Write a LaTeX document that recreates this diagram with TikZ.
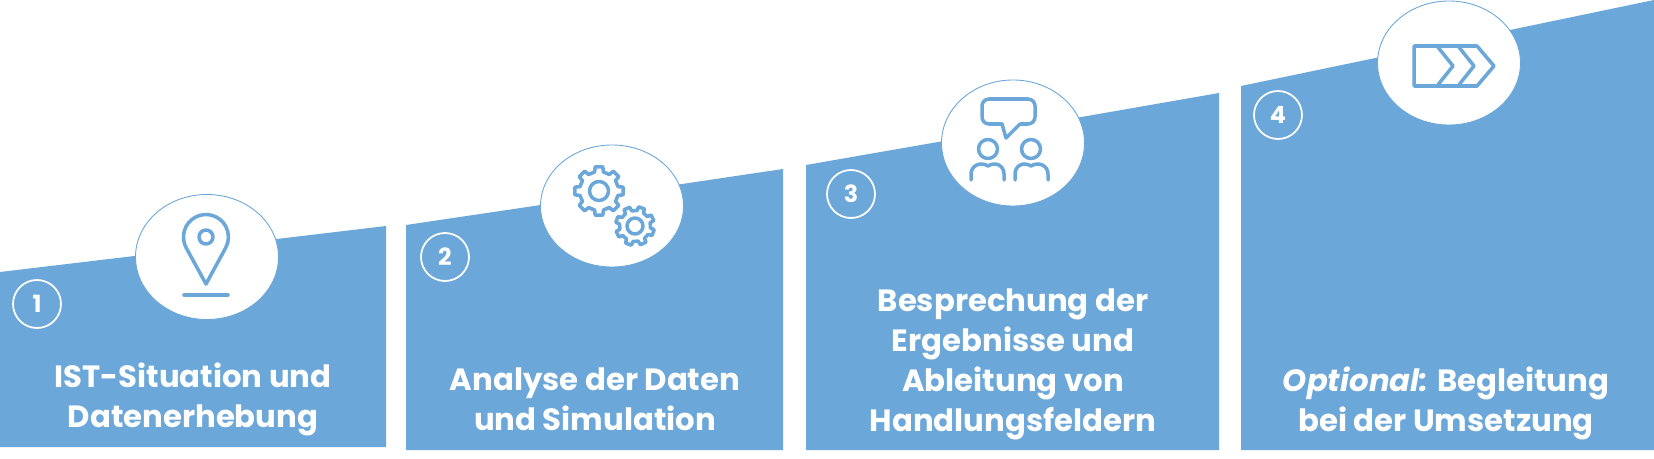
\documentclass[tikz,border=0pt]{standalone}
\usepackage{fontspec}
\setmainfont{Poppins}
\usetikzlibrary{shapes.geometric}
\definecolor{panelblue}{HTML}{6BA7D8}

\begin{document}
\begin{tikzpicture}
            [
            x=0.02cm, y=-0.02cm,
            panel/.style={fill=panelblue},
            bubble/.style={ellipse,draw=panelblue,fill=white,line width=.5pt,inner sep=0pt},
            badge/.style={circle,draw=white,line width=1pt,text=white,inner sep=0pt,
                minimum size=48*0.02cm,font={\fontsize{13.5}{13.5}\selectfont\bfseries}},
            caption/.style={text=white,align=center,inner sep=0pt,anchor=base,
                font={\fontsize{17.5}{22.7}\selectfont\bfseries}},
            icon/.style={draw=panelblue,line width=2pt,line cap=round,line join=round},
            ]
            \useasboundingbox (0,0) rectangle (1654,459);

            % Panels
            \fill[panel] (0,272) -- (386,226) -- (386,447) -- (0,447) -- cycle;
            \fill[panel] (406,225) -- (783,169) -- (783,450) -- (406,450) -- cycle;
            \fill[panel] (806,165) -- (1219,93) -- (1219,450) -- (806,450) -- cycle;
            \fill[panel] (1241,86) -- (1654,0) -- (1654,450) -- (1241,450) -- cycle;

            % Bubbles
            \node[bubble, minimum width=143*0.02cm, minimum height=125*0.02cm] (bubble1) at (207,257) {};
            \node[bubble, minimum width=143*0.02cm, minimum height=122*0.02cm] (bubble2) at (612,206) {};
            \node[bubble, minimum width=143*0.02cm, minimum height=126*0.02cm] (bubble3) at (1013,143) {};
            \node[bubble, minimum width=143*0.02cm, minimum height=124*0.02cm] (bubble4) at (1449,63) {};

            % Badges
            \node[badge] (badge1) at (37,304) {1};
            \node[badge] (badge2) at (445,257) {2};
            \node[badge] (badge3) at (851,194) {3};
            \node[badge] (badge4) at (1278,115) {4};

            % Pin
            \draw[icon] (206,284) -- (186.2,247.8) arc (151.4:388.6:22.5) -- cycle;
            \draw[icon] (206,237) circle (7);
            \draw[icon] (184,295) -- (228,295);

            % Gears
            \draw[icon, shift={(599,191)}] (-13:19.5)
                \foreach \a in {0,45,...,315} {
                    -- (\a-13:19.5) -- (\a-9:24.5) -- (\a+9:24.5) -- (\a+13:19.5)
                } -- cycle;
            \draw[icon] (599,191) circle (9.5);
            \draw[icon, shift={(635,226)}] (7:15.5)
                \foreach \a in {20,65,...,335} {
                    -- (\a-13:15.5) -- (\a-9:19.5) -- (\a+9:19.5) -- (\a+13:15.5)
                } -- cycle;
            \draw[icon] (635,226) circle (8);

            % Speech bubble
            \draw[icon, rounded corners=7*0.02cm] (1002,124) -- (982,124) -- (982,99) -- (1035,99) -- (1035,124) -- (1020,124);
            \draw[icon] (1002,124) -- (1006,138) -- (1020,124);

            % Persons
            \draw[icon] (988,149) circle (9.5);
            \draw[icon] (1031,149) circle (9.5);
            \draw[icon] (971,180) -- (971,174) .. controls (971,166) and (980,161) .. (988,166) .. controls (996,161) and (1004,166) .. (1004,174) -- (1004,180);
            \draw[icon] (1015,180) -- (1015,174) .. controls (1015,166) and (1023,161) .. (1031,166) .. controls (1039,161) and (1048,166) .. (1048,174) -- (1048,180);

            % Chevrons
            \draw[icon] (1414,46) -- (1477,46) -- (1494,66) -- (1477,86) -- (1414,86) -- cycle;
            \draw[icon] (1437,46) -- (1453,66) -- (1437,86);
            \draw[icon] (1458,46) -- (1474,66) -- (1458,86);

            % Captions
            \node[caption] (caption1) at (193,427) {IST-Situation und\\Datenerhebung};
            \node[caption] (caption2) at (595,430) {Analyse der Daten\\und Simulation};
            \node[caption] (caption3) at (1013,431) {Besprechung der\\Ergebnisse und\\Ableitung von\\Handlungsfeldern};
            \node[caption] (caption4) at (1446,431) {\textit{Optional:} Begleitung\\bei der Umsetzung};
        \end{tikzpicture}
\end{document}
